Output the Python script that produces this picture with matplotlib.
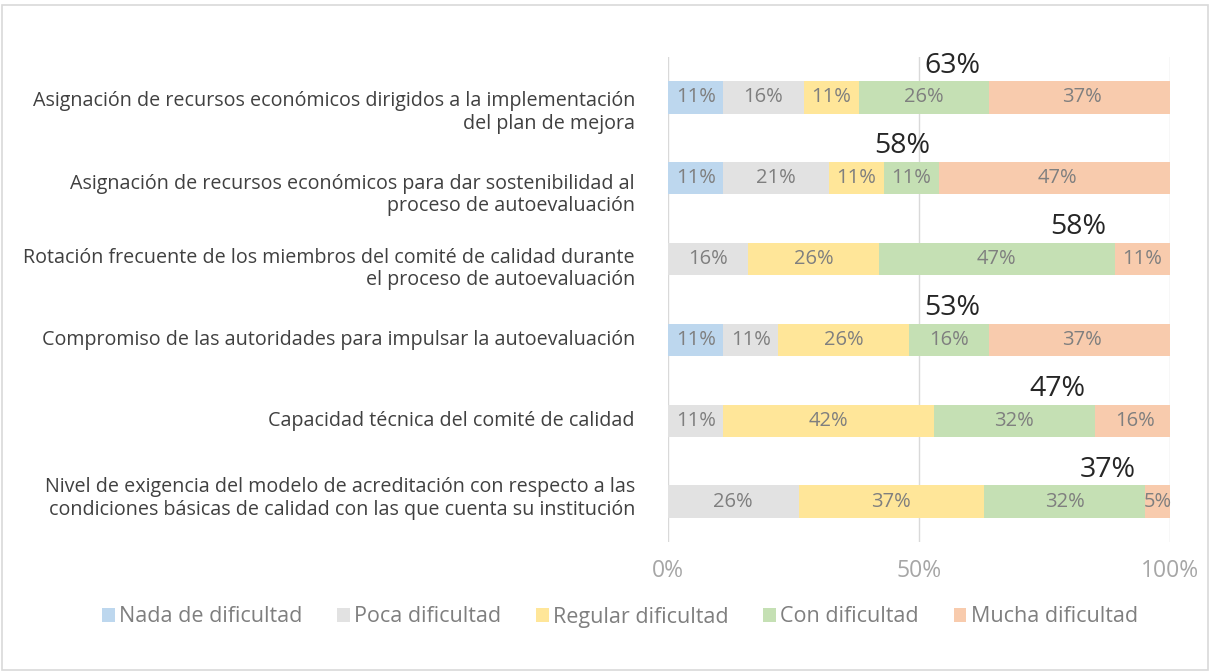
import matplotlib.pyplot as plt
from matplotlib.patches import Rectangle
import matplotlib.transforms as mtransforms
import numpy as np

plt.rcParams['font.family'] = ['Open Sans', 'DejaVu Sans']

categories = [
    "Asignación de recursos económicos dirigidos a la implementación\ndel plan de mejora",
    "Asignación de recursos económicos para dar sostenibilidad al\nproceso de autoevaluación",
    "Rotación frecuente de los miembros del comité de calidad durante\nel proceso de autoevaluación",
    "Compromiso de las autoridades para impulsar la autoevaluación",
    "Capacidad técnica del comité de calidad",
    "Nivel de exigencia del modelo de acreditación con respecto a las\ncondiciones básicas de calidad con las que cuenta su institución",
]
series_names = ["Nada de dificultad", "Poca dificultad", "Regular dificultad",
                "Con dificultad", "Mucha dificultad"]
nada = [11, 11, 0, 11, 0, 0]
poca = [16, 21, 16, 11, 11, 26]
regular = [11, 11, 26, 26, 42, 37]
con = [26, 11, 47, 16, 32, 32]
mucha = [37, 47, 11, 37, 16, 5]
totals = [63, 58, 58, 53, 47, 37]

colors = ['#BDD7EE', '#E2E2E2', '#FFE699', '#C5E0B4', '#F8CBAD']

fig = plt.figure(figsize=(12.1, 6.72), dpi=100)
ax = fig.add_axes([668 / 1210, 1 - 542 / 672, 502 / 1210, 485 / 672])

data = [nada, poca, regular, con, mucha]
y = np.arange(len(categories))
left = np.zeros(len(categories))
for vals, name, col in zip(data, series_names, colors):
    v = np.array(vals) / 100.0
    ax.barh(y, v, left=left, height=0.4, color=col, label=name, zorder=2)
    for i in range(len(v)):
        if v[i] > 0:
            ax.text(left[i] + v[i] / 2, y[i], "%d%%" % vals[i], ha='center', va='center',
                    fontsize=14.5, color='#7F7F7F', zorder=3)
    left = left + v

# total of "Con" + "Mucha" above each bar
green_end = (np.array(nada) + np.array(poca) + np.array(regular) + np.array(con)) / 100.0
for i, t in enumerate(totals):
    ax.text(green_end[i] - 0.018, y[i] - 0.22, "%d%%" % t, ha='right', va='bottom',
            fontsize=20.5, color='#262626', zorder=4)

ax.set_xlim(0, 1)
ax.set_ylim(5.5, -0.5)
ax.set_xticks([0, 0.5, 1])
ax.set_xticklabels(['0%', '50%', '100%'])
ax.set_yticks(y)
ax.set_yticklabels([])
ax.tick_params(axis='y', length=0)
ax.tick_params(axis='x', length=0, pad=12, labelsize=16.5, labelcolor='#A6A6A6')
ax.grid(axis='x', color='#D9D9D9', linewidth=1, zorder=0)
for s in ax.spines.values():
    s.set_visible(False)

# category labels, shifted a little as in the original layout (pixels)
label_shift = [15, 17, 10, 0, 0, -3]
trans = mtransforms.blended_transform_factory(fig.transFigure, ax.transData)
for i, cat in enumerate(categories):
    off = mtransforms.ScaledTranslation(0, -label_shift[i] / 100.0, fig.dpi_scale_trans)
    ax.text(635 / 1210, y[i], cat, transform=trans + off, ha='right', va='center',
            multialignment='right', fontsize=14.2, color='#404040', linespacing=1.15)

fig.legend(loc='center', bbox_to_anchor=(620 / 1210, 1 - 617 / 672), ncol=5, frameon=False,
           fontsize=15.5, labelcolor='#7F7F7F', handlelength=0.6, handleheight=0.6,
           handletextpad=0.2, columnspacing=1.6)

fig.patches.append(Rectangle((0.002, 0.003), 0.996, 0.99, transform=fig.transFigure,
                             fill=False, edgecolor='#D9D9D9', linewidth=1.2))

fig.savefig('out.png', dpi=100)
